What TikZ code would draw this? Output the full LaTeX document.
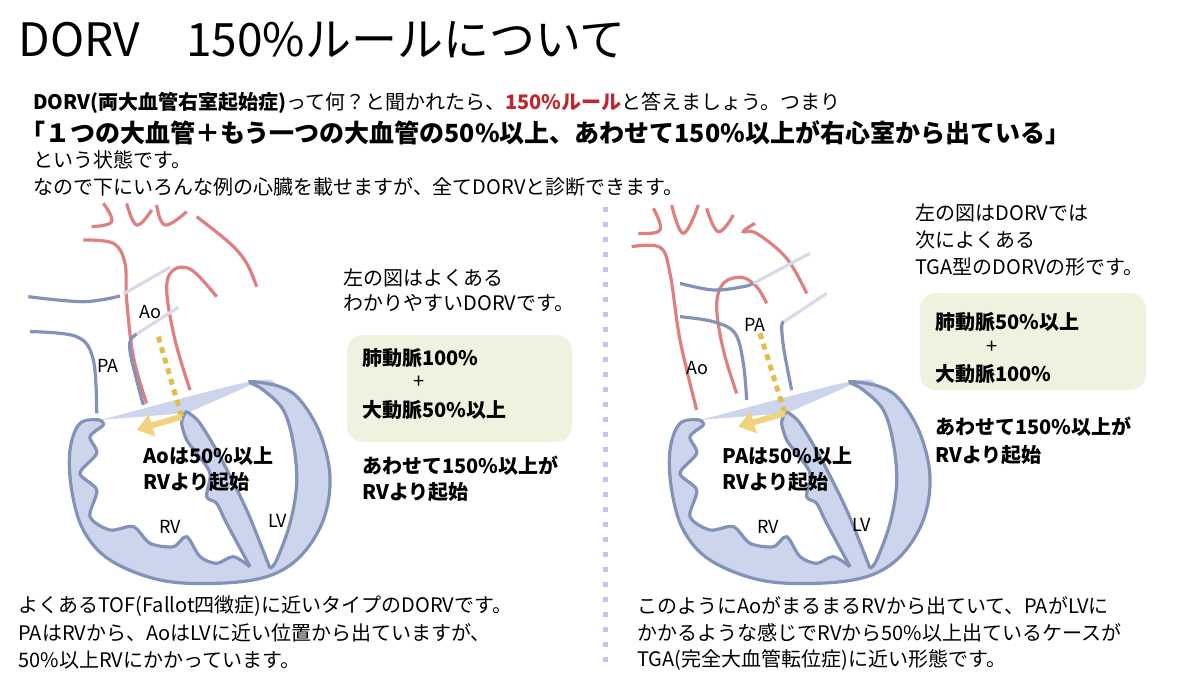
\documentclass[tikz,border=0pt]{standalone}
\usepackage{fontspec}
\setmainfont{Noto Sans CJK JP}
\newcommand\jpbold{\bfseries}
\usetikzlibrary{arrows.meta}
\definecolor{vred}{HTML}{DE7F80}
\definecolor{vblue}{HTML}{8393B8}
\definecolor{vfill}{HTML}{CDD5EC}
\definecolor{vpale}{HTML}{D8DBE7}
\definecolor{vyel}{HTML}{F1D27E}
\definecolor{vdot}{HTML}{E2BD4A}
\definecolor{boxgreen}{HTML}{EEF3DF}
\definecolor{rulered}{HTML}{C0272D}
\tikzset{
  txt/.style={anchor=west,inner sep=0pt,font=\fontsize{10}{12}\selectfont},
  bold/.style={anchor=west,inner sep=0pt,font=\fontsize{10}{12}\selectfont\bfseries},
  lbl/.style={inner sep=0pt,font=\fontsize{9}{10}\selectfont},
  red vessel/.style={vred,line width=1.6pt},
  blue vessel/.style={vblue,line width=1.6pt},
  pale vessel/.style={vpale,line width=1.6pt},
  box/.style={fill=boxgreen,rounded corners=8pt},
  heart/.pic={
    \fill[vfill] plot[smooth cycle,tension=0.6] coordinates {(300,690) (240,700) (210,780) (215,900) (250,1020) (330,1110) (480,1170) (650,1180) (800,1160) (900,1100) (970,990) (990,860) (960,730) (900,630) (840,590) (750,575)};
    % cavities
    \fill[white] plot[smooth,tension=0.5] coordinates {(300,690) (310,705) (270,740) (290,790) (240,850) (290,900) (270,980) (330,1020) (400,1010) (450,1060) (520,1070) (560,1040) (600,1100) (650,1120) (700,1100) (750,1130)} -- plot[smooth,tension=0.5] coordinates {(750,1130) (680,1000) (650,940) (620,920) (630,850) (590,790) (560,750) (545,700) (555,670)} -- cycle;
    \fill[white] plot[smooth,tension=0.5] coordinates {(760,582) (840,650) (880,780) (885,920) (850,1060) (810,1135)} -- plot[smooth,tension=0.5] coordinates {(810,1135) (740,960) (660,800) (600,700) (565,668)} -- cycle;
    % outlines
    \draw[blue vessel] plot[smooth,tension=0.6] coordinates {(300,690) (240,700) (210,780) (215,900) (250,1020) (330,1110) (480,1170) (650,1180) (800,1160) (900,1100) (970,990) (990,860) (960,730) (900,630) (840,590) (750,575) (790,600) (850,660) (880,760) (890,880) (870,1000) (830,1110) (810,1135)};
    \draw[blue vessel] plot[smooth,tension=0.5] coordinates {(300,690) (310,705) (270,740) (290,790) (240,850) (290,900) (270,980) (330,1020) (400,1010) (450,1060) (520,1070) (560,1040) (600,1100) (650,1120) (700,1100) (750,1130)};
    \draw[blue vessel] plot[smooth,tension=0.5] coordinates {(750,1130) (680,1000) (650,940) (620,920) (630,850) (590,790) (560,750) (545,700) (555,670) (565,668) (600,700) (660,800) (740,960) (810,1135)};
  }
}
\begin{document}
\begin{tikzpicture}[x=0.5pt,y=-0.5pt]
\useasboundingbox (0,0) rectangle (1200,675);
% title and intro
\node[anchor=west,inner sep=0pt,font=\fontsize{23}{28}\selectfont] (title) at (18,40) {DORV\quad 150\%ルールについて};
\node[txt] (l1) at (33,103) {{\jpbold DORV(両大血管右室起始症)}って何？と聞かれたら、{\jpbold\color{rulered}150\%ルール}と答えましょう。つまり};
\node[anchor=west,inner sep=0pt,font=\fontsize{12.5}{14}\selectfont\jpbold] (l2) at (20,133) {「１つの大血管＋もう一つの大血管の50\%以上、あわせて150\%以上が右心室から出ている」};
\node[txt] (l3) at (33,160) {という状態です。};
\node[txt] (l4) at (33,187) {なので下にいろんな例の心臓を載せますが、全てDORVと診断できます。};
\draw[vpale!90!blue,line width=2.5pt,dash pattern=on 2.5pt off 5pt] (605,207) -- (605,668);

% left heart
\begin{scope}[shift={(0,190)},scale=1/3]
\draw[red vessel] plot[smooth,tension=0.6] coordinates {(250,150) (340,160) (375,220) (380,330) (400,500) (440,640)};
\draw[red vessel] plot[smooth,tension=0.6] coordinates {(570,600) (525,450) (500,300) (520,240) (575,240) (650,320)};
\draw[red vessel] plot[smooth,tension=0.7] coordinates {(310,40) (335,95) (275,110)};
\draw[red vessel] plot[smooth,tension=0.7] coordinates {(380,40) (410,105) (455,60)};
\draw[red vessel] plot[smooth,tension=0.7] coordinates {(470,45) (495,105) (560,65)};
\draw[red vessel] plot[smooth,tension=0.6] coordinates {(590,80) (690,160) (740,220) (770,290)};
\draw[blue vessel] plot[smooth,tension=0.6] coordinates {(85,320) (250,335) (360,318)};
\draw[pale vessel] (370,312) -- (510,232);
\draw[blue vessel] plot[smooth,tension=0.6] coordinates {(90,425) (230,440) (280,510) (290,670)};
\draw[blue vessel] plot[smooth,tension=0.6] coordinates {(430,645) (395,510) (390,455) (410,432)};
\draw[pale vessel] (410,432) -- (535,352);
\pic[transform shape] {heart};
\draw[vdot,line width=2.5pt,dash pattern=on 3pt off 2.5pt] (475,440) -- (545,680);
\draw[vyel,line width=3pt,-{Triangle[length=8pt,width=11pt]}] (545,680) -- (410,720);
\end{scope}
\node[lbl] (ao1) at (150,312) {Ao};
\node[lbl] (pa1) at (108,366) {PA};
\node[lbl] (rv1) at (170,527) {RV};
\node[lbl] (lv1) at (278,521) {LV};
\node[bold] (orig1a) at (143,456) {Aoは50\%以上};
\node[bold] (orig1b) at (143,482) {RVより起始};

% left notes
\node[txt] (n1a) at (343,278) {左の図はよくある};
\node[txt] (n1b) at (343,303) {わかりやすいDORVです。};
\fill[box] (347,335) rectangle (572,442);
\node[bold] (b1a) at (362,358) {肺動脈100\%};
\node[lbl,font=\fontsize{10}{12}\selectfont] (b1p) at (419,382) {+};
\node[bold] (b1b) at (362,410) {大動脈50\%以上};
\node[bold] (s1a) at (362,466) {あわせて150\%以上が};
\node[bold] (s1b) at (362,492) {RVより起始};

% right heart
\begin{scope}[shift={(600,190)},scale=1/3]
\draw[red vessel] plot[smooth,tension=0.6] coordinates {(95,170) (180,172) (210,250) (240,450) (290,660)};
\draw[red vessel] plot[smooth,tension=0.6] coordinates {(410,610) (370,480) (350,350) (370,280) (425,262) (470,290) (500,340)};
\draw[red vessel] plot[smooth,tension=0.7] coordinates {(160,55) (180,120) (115,130)};
\draw[red vessel] plot[smooth,tension=0.7] coordinates {(215,45) (250,130) (295,45)};
\draw[red vessel] plot[smooth,tension=0.7] coordinates {(320,55) (355,125) (400,75)};
\draw[red vessel] plot[smooth,tension=0.6] coordinates {(465,100) (430,125) (470,130) (560,205) (620,310)};
\draw[blue vessel] plot[smooth,tension=0.6] coordinates {(240,280) (340,300) (430,290) (460,280)};
\draw[pale vessel] (460,280) -- (630,190);
\draw[blue vessel] plot[smooth,tension=0.6] coordinates {(240,380) (340,395) (405,430) (430,520) (440,630)};
\draw[blue vessel] plot[smooth,tension=0.6] coordinates {(575,600) (552,480) (545,410) (552,395)};
\draw[pale vessel] (552,395) -- (680,310);
\pic[transform shape] {heart};
\draw[vdot,line width=2.5pt,dash pattern=on 3pt off 2.5pt] (480,430) -- (555,670);
\draw[vyel,line width=3pt,-{Triangle[length=8pt,width=11pt]}] (555,670) -- (415,710);
\end{scope}
\node[lbl] (pa2) at (755,325) {PA};
\node[lbl] (ao2) at (697,368) {Ao};
\node[lbl] (rv2) at (768,527) {RV};
\node[lbl] (lv2) at (862,525) {LV};
\node[bold] (orig2a) at (722,456) {PAは50\%以上};
\node[bold] (orig2b) at (722,482) {RVより起始};

% right notes
\node[txt] (n2a) at (915,213) {左の図はDORVでは};
\node[txt] (n2b) at (915,240) {次によくある};
\node[txt] (n2c) at (915,267) {TGA型のDORVの形です。};
\fill[box] (920,293) rectangle (1146,390);
\node[bold] (b2a) at (935,322) {肺動脈50\%以上};
\node[lbl,font=\fontsize{10}{12}\selectfont] (b2p) at (992,347) {+};
\node[bold] (b2b) at (935,374) {大動脈100\%};
\node[bold] (s2a) at (935,427) {あわせて150\%以上が};
\node[bold] (s2b) at (935,455) {RVより起始};

% captions
\node[txt] (c1a) at (18,606) {よくあるTOF(Fallot四徴症)に近いタイプのDORVです。};
\node[txt] (c1b) at (18,633) {PAはRVから、AoはLVに近い位置から出ていますが、};
\node[txt] (c1c) at (18,660) {50\%以上RVにかかっています。};
\node[txt] (c2a) at (637,606) {このようにAoがまるまるRVから出ていて、PAがLVに};
\node[txt] (c2b) at (637,633) {かかるような感じでRVから50\%以上出ているケースが};
\node[txt] (c2c) at (637,660) {TGA(完全大血管転位症)に近い形態です。};
\end{tikzpicture}
\end{document}
